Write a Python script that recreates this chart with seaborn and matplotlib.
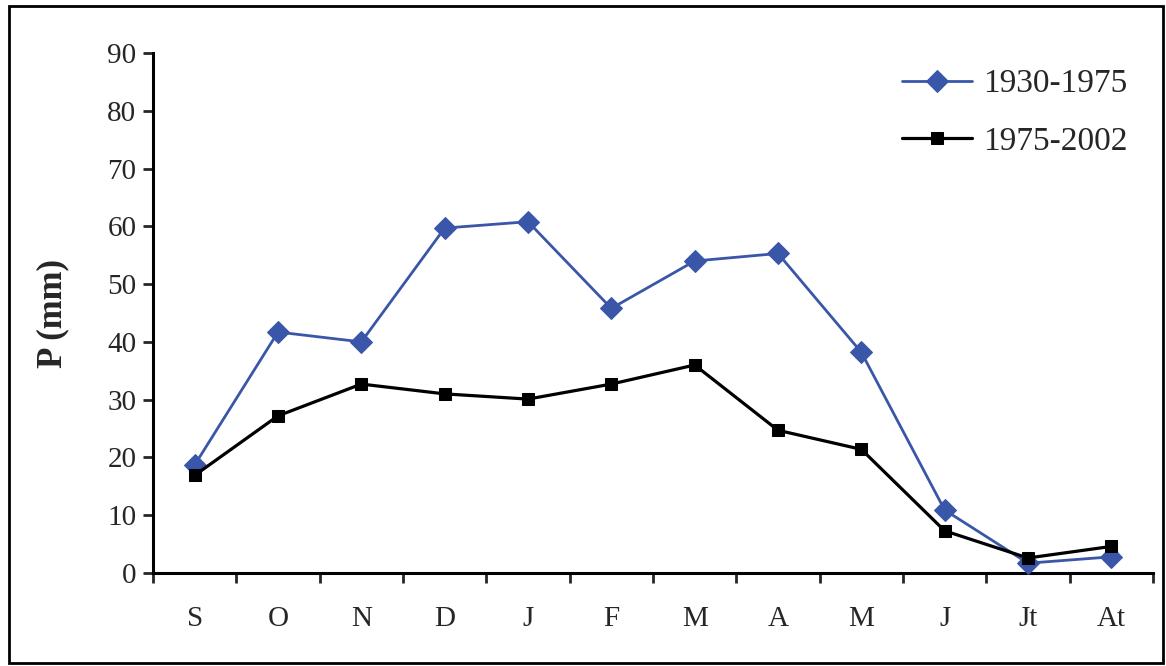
import matplotlib
matplotlib.use("Agg")
import matplotlib.pyplot as plt
from matplotlib.patches import Rectangle
from matplotlib.ticker import FixedLocator
import seaborn as sns
import pandas as pd
import numpy as np

months = ["S", "O", "N", "D", "J", "F", "M", "A", "M", "J", "Jt", "At"]
p_1930_1975 = [18.7, 41.7, 40.0, 59.7, 60.8, 45.8, 54.0, 55.3, 38.2, 10.9, 1.7, 2.8]
p_1975_2002 = [16.9, 27.2, 32.7, 31.0, 30.1, 32.7, 36.0, 24.7, 21.4, 7.3, 2.6, 4.6]
series_names = ["1930-1975", "1975-2002"]
y_ticks = [0, 10, 20, 30, 40, 50, 60, 70, 80, 90]

sns.set_style("ticks")
plt.rcParams["font.family"] = ["Liberation Serif", "DejaVu Serif"]

idx = np.arange(len(months))
df = pd.DataFrame({
    "pos": np.concatenate([idx, idx]),
    "P": p_1930_1975 + p_1975_2002,
    "period": [series_names[0]] * len(months) + [series_names[1]] * len(months),
})

fig = plt.figure(figsize=(11.66, 6.66), dpi=100)
ax = fig.add_axes([153 / 1166, 1 - 573 / 666, 1000 / 1166, 520 / 666])

colors = {"1930-1975": "#3A56A8", "1975-2002": "#000000"}
markers = {"1930-1975": "D", "1975-2002": "s"}
sizes = {"1930-1975": 11, "1975-2002": 9}
lws = {"1930-1975": 2.0, "1975-2002": 2.3}

for name in series_names:
    sub = df[df["period"] == name]
    sns.lineplot(data=sub, x="pos", y="P", ax=ax, color=colors[name],
                 marker=markers[name], markersize=sizes[name],
                 markeredgecolor=colors[name], linewidth=lws[name],
                 label=name, clip_on=False, zorder=3)

ax.set_xlim(-0.5, len(months) - 0.5)
ax.set_ylim(0, 90)
ax.set_yticks(y_ticks)
ax.set_xticks(idx)
ax.set_xticklabels(months)
ax.xaxis.set_minor_locator(FixedLocator(np.arange(-0.5, len(months), 1.0)))
ax.tick_params(axis="x", which="major", length=0, pad=24, labelsize=21)
ax.tick_params(axis="x", which="minor", length=7, width=2, direction="out")
ax.tick_params(axis="y", which="major", length=7, width=2, direction="out", labelsize=21, pad=5)
ax.set_xlabel("")
ax.set_ylabel("P (mm)", fontsize=25, fontweight="bold", labelpad=27)

sns.despine(ax=ax)
for s in ["left", "bottom"]:
    ax.spines[s].set_linewidth(2.2)
    ax.spines[s].set_color("black")

leg = ax.legend(loc="upper left", bbox_to_anchor=(902 / 1166, 1 - 69 / 666),
                bbox_transform=fig.transFigure, frameon=False, fontsize=24,
                handlelength=2.1, handletextpad=0.33, labelspacing=0.8,
                borderpad=0, borderaxespad=0)

fig.patches.append(Rectangle((9 / 1166, 1 - 663 / 666), 1154 / 1166, 657 / 666,
                             transform=fig.transFigure, fill=False,
                             edgecolor="black", linewidth=2))

fig.savefig("out.png", dpi=100)
